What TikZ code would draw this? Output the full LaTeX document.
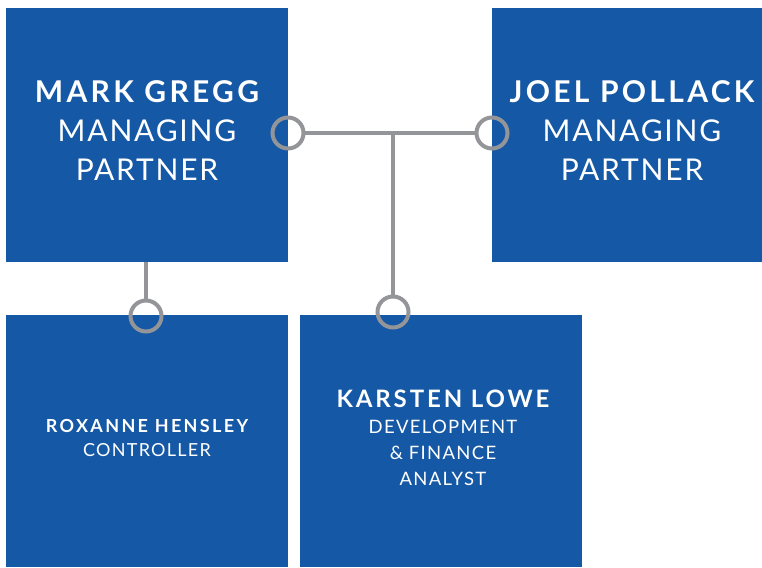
\documentclass[tikz,border=0pt]{standalone}
\usepackage{fontspec}
\setmainfont{Lato}
\newfontfamily\nameA[LetterSpace=11]{Lato}
\newfontfamily\roleA[LetterSpace=6]{Lato}
\newfontfamily\nameB[LetterSpace=12]{Lato}
\newfontfamily\roleB[LetterSpace=7]{Lato}
\newfontfamily\nameC[LetterSpace=13]{Lato}
\definecolor{boxblue}{HTML}{1558A5}
\definecolor{linegray}{HTML}{939598}
\begin{document}
\begin{tikzpicture}[x=1pt,y=-1pt,
  box/.style={fill=boxblue, inner sep=0pt, outer sep=0pt, anchor=north west},
  ring/.style={circle, draw=linegray, line width=4pt, minimum size=31pt, inner sep=0pt, outer sep=0pt},
  conn/.style={draw=linegray, line width=4pt},
  txt/.style={text=white, align=center, inner sep=0pt}]
\useasboundingbox (0,0) rectangle (762,567);
\node[box, minimum width=282pt, minimum height=254pt] (mark) at (6,8) {};
\node[box, minimum width=270pt, minimum height=254pt] (joel) at (492,8) {};
\node[box, minimum width=282pt, minimum height=252pt] (rox) at (6,315) {};
\node[box, minimum width=282pt, minimum height=252pt] (kar) at (300,315) {};
\node[txt, font={\fontsize{30}{39}\selectfont\roleA}] (markt) at (147,131) {{\nameA\bfseries MARK GREGG}\\MANAGING\\PARTNER};
\node[txt, font={\fontsize{30}{39}\selectfont\roleA}] (joelt) at (632,131) {{\nameA\bfseries JOEL POLLACK}\\MANAGING\\PARTNER};
\node[txt, font={\fontsize{18}{24}\selectfont\roleB}] (roxt) at (147,438) {{\nameC\bfseries ROXANNE HENSLEY}\\CONTROLLER};
\node[txt, font={\fontsize{18.5}{26}\selectfont\roleB}] (kart) at (443,438) {{\fontsize{24}{27}\selectfont\nameB\bfseries KARSTEN LOWE}\\DEVELOPMENT\\\&~FINANCE\\ANALYST};
\node[ring] (c1) at (288,133) {};
\node[ring] (c2) at (492,133) {};
\node[ring] (c3) at (146,316) {};
\node[ring] (c4) at (393,312) {};
\coordinate (j) at (393,133);
\draw[conn] (c1.east) -- (c2.west);
\draw[conn] (j) -- (c4.north);
\draw[conn] (c3 |- mark.south) -- (c3.north);
\end{tikzpicture}
\end{document}
